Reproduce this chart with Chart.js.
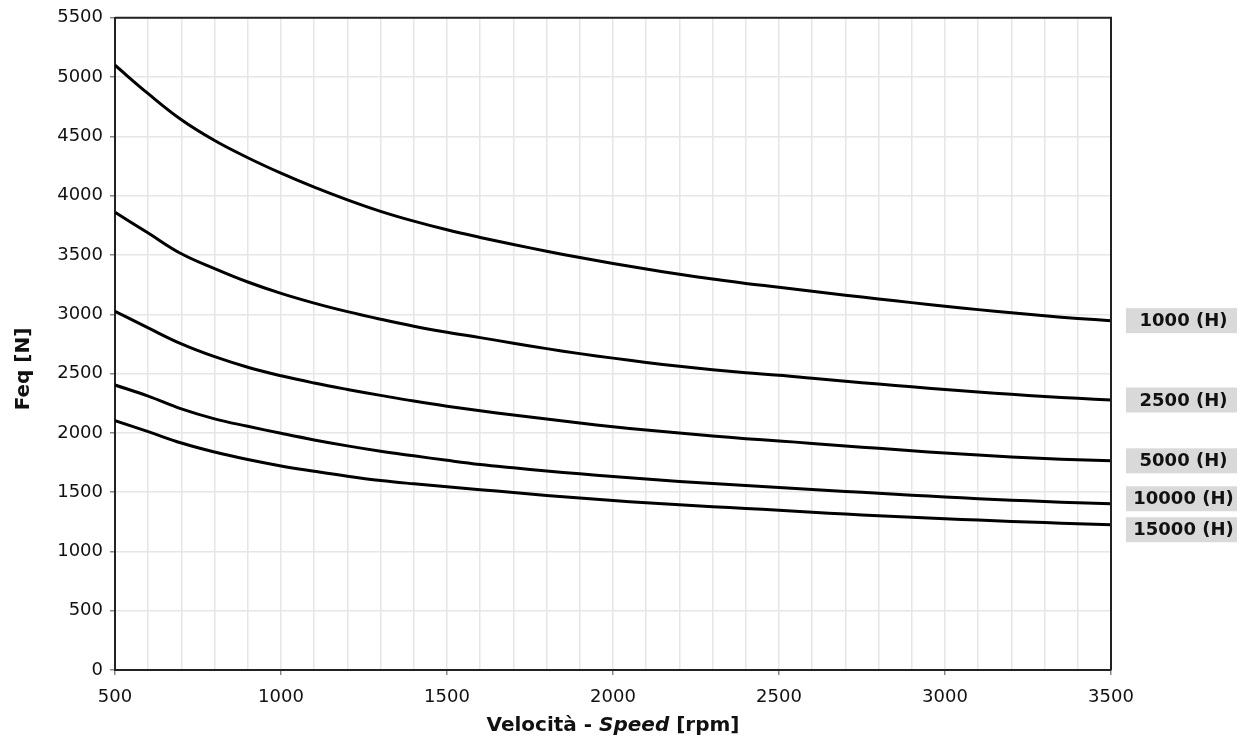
<!DOCTYPE html>
<html>
<head>
<meta charset="utf-8">
<script src="https://cdn.jsdelivr.net/npm/chart.js@4.4.1/dist/chart.umd.min.js"></script>
<style>
    html, body { margin: 0; padding: 0; background: #fff; }
    #wrap { width: 1246px; height: 756px; }
</style>
</head>
<body>
<div id="wrap"><canvas id="feqChart"></canvas></div>
<script>
const speeds = [500, 600, 700, 800, 900, 1000, 1100, 1200, 1300, 1400, 1500, 1600, 1700, 1800, 1900, 2000,
    2100, 2200, 2300, 2400, 2500, 2600, 2700, 2800, 2900, 3000, 3100, 3200, 3300, 3400, 3500];

const feq1000 = [5100, 4860, 4640, 4465, 4320, 4190, 4072, 3965, 3868, 3785, 3712, 3648, 3588, 3532, 3478, 3428,
    3381, 3337, 3297, 3260, 3228, 3194, 3161, 3129, 3098, 3068, 3039, 3012, 2987, 2965, 2946];
const feq2500 = [3860, 3685, 3510, 3385, 3272, 3176, 3094, 3022, 2958, 2899, 2848, 2803, 2756, 2710, 2668, 2630,
    2594, 2561, 2532, 2507, 2486, 2460, 2435, 2411, 2388, 2366, 2345, 2325, 2307, 2291, 2277];
const feq5000 = [3025, 2885, 2750, 2642, 2553, 2481, 2420, 2366, 2316, 2268, 2225, 2186, 2150, 2117, 2083, 2052,
    2024, 1999, 1974, 1951, 1932, 1911, 1890, 1869, 1849, 1830, 1813, 1797, 1783, 1772, 1764];
const feq10000 = [2403, 2310, 2202, 2118, 2055, 1996, 1940, 1890, 1845, 1806, 1768, 1733, 1705, 1679, 1654, 1632,
    1610, 1590, 1572, 1555, 1539, 1522, 1506, 1490, 1474, 1459, 1445, 1432, 1421, 1410, 1402];
const feq15000 = [2103, 2010, 1914, 1838, 1775, 1721, 1676, 1634, 1598, 1570, 1545, 1521, 1497, 1472, 1450, 1430,
    1410, 1393, 1377, 1362, 1347, 1330, 1315, 1301, 1288, 1276, 1264, 1253, 1243, 1234, 1225];

const lifeLabels = ['1000 (H)', '2500 (H)', '5000 (H)', '10000 (H)', '15000 (H)'];
const seriesList = [feq1000, feq2500, feq5000, feq10000, feq15000];

const FONT = "'DejaVu Sans', Verdana, sans-serif";

function toPoints(values) {
    return values.map((v, i) => ({ x: speeds[i], y: v }));
}

// grey boxes with the life hours at the end of each curve, frame and axis titles
const endLabels = {
    id: 'endLabels',
    afterDatasetsDraw(chart) {
        const ctx = chart.ctx;
        const area = chart.chartArea;
        let items = chart.data.datasets.map((ds, i) => {
            const meta = chart.getDatasetMeta(i);
            const last = meta.data[meta.data.length - 1];
            return { text: ds.label, y: last.y };
        });
        items.sort((a, b) => a.y - b.y);
        const gap = 31;
        for (let k = 0; k < 10; k++) {
            for (let i = 1; i < items.length; i++) {
                const d = items[i].y - items[i - 1].y;
                if (d < gap) {
                    items[i - 1].y -= (gap - d) / 2;
                    items[i].y += (gap - d) / 2;
                }
            }
        }
        const boxLeft = area.right + 15;
        const boxW = 111;
        const boxH = 25;
        ctx.save();
        ctx.font = 'bold 18px ' + FONT;
        ctx.textAlign = 'center';
        ctx.textBaseline = 'middle';
        items.forEach(it => {
            ctx.fillStyle = '#d9d9d9';
            ctx.fillRect(boxLeft, it.y - boxH / 2, boxW, boxH);
            ctx.fillStyle = '#111';
            ctx.fillText(it.text, boxLeft + boxW / 2 + 2, it.y + 1);
        });
        ctx.restore();
    },
    afterDraw(chart) {
        const ctx = chart.ctx;
        const area = chart.chartArea;
        ctx.save();
        ctx.strokeStyle = '#222';
        ctx.lineWidth = 2;
        ctx.beginPath();
        ctx.moveTo(area.left, area.top);
        ctx.lineTo(area.right, area.top);
        ctx.lineTo(area.right, area.bottom);
        ctx.stroke();

        // x title with italic "Speed"
        const parts = [
            ['Velocità - ', 'bold 20px ' + FONT],
            ['Speed', 'italic bold 20px ' + FONT],
            [' [rpm]', 'bold 20px ' + FONT]
        ];
        let total = 0;
        parts.forEach(p => { ctx.font = p[1]; total += ctx.measureText(p[0]).width; });
        let x = (area.left + area.right) / 2 - total / 2;
        ctx.fillStyle = '#111';
        ctx.textBaseline = 'middle';
        ctx.textAlign = 'left';
        parts.forEach(p => {
            ctx.font = p[1];
            ctx.fillText(p[0], x, 726);
            x += ctx.measureText(p[0]).width;
        });

        ctx.translate(24, 369);
        ctx.rotate(-Math.PI / 2);
        ctx.font = 'bold 20px ' + FONT;
        ctx.textAlign = 'center';
        ctx.fillText('Feq [N]', 0, 0);
        ctx.restore();
    }
};

const chart = new Chart(document.getElementById('feqChart').getContext('2d'), {
    type: 'line',
    data: {
        datasets: seriesList.map((s, i) => ({
            label: lifeLabels[i],
            data: toPoints(s),
            borderColor: '#000',
            borderWidth: 3,
            pointRadius: 0,
            fill: false,
            tension: 0.4
        }))
    },
    options: {
        responsive: true,
        maintainAspectRatio: false,
        animation: false,
        layout: { padding: { top: 14, right: 135, left: 0, bottom: 0 } },
        plugins: {
            legend: { display: false },
            tooltip: { enabled: false }
        },
        scales: {
            x: {
                type: 'linear',
                min: 500,
                max: 3500,
                afterFit: s => { s.height = 86; },
                border: { color: '#222', width: 2 },
                grid: {
                    color: '#e6e6e6',
                    lineWidth: 1.5,
                    tickLength: 5,
                    tickColor: c => c.tick && c.tick.value % 500 === 0 ? '#888' : 'rgba(0,0,0,0)'
                },
                ticks: {
                    stepSize: 100,
                    autoSkip: false,
                    maxRotation: 0,
                    padding: 12,
                    color: '#111',
                    font: { family: FONT, size: 18 },
                    callback: v => v % 500 === 0 ? String(v) : ''
                }
            },
            y: {
                min: 0,
                max: 5500,
                afterFit: s => { s.width = 115; },
                border: { color: '#222', width: 2 },
                grid: {
                    color: '#e6e6e6',
                    lineWidth: 1.5,
                    tickLength: 5,
                    tickColor: '#888'
                },
                ticks: {
                    stepSize: 500,
                    padding: 7,
                    color: '#111',
                    font: { family: FONT, size: 18 },
                    callback: v => String(v)
                }
            }
        }
    },
    plugins: [endLabels]
});
</script>
</body>
</html>
